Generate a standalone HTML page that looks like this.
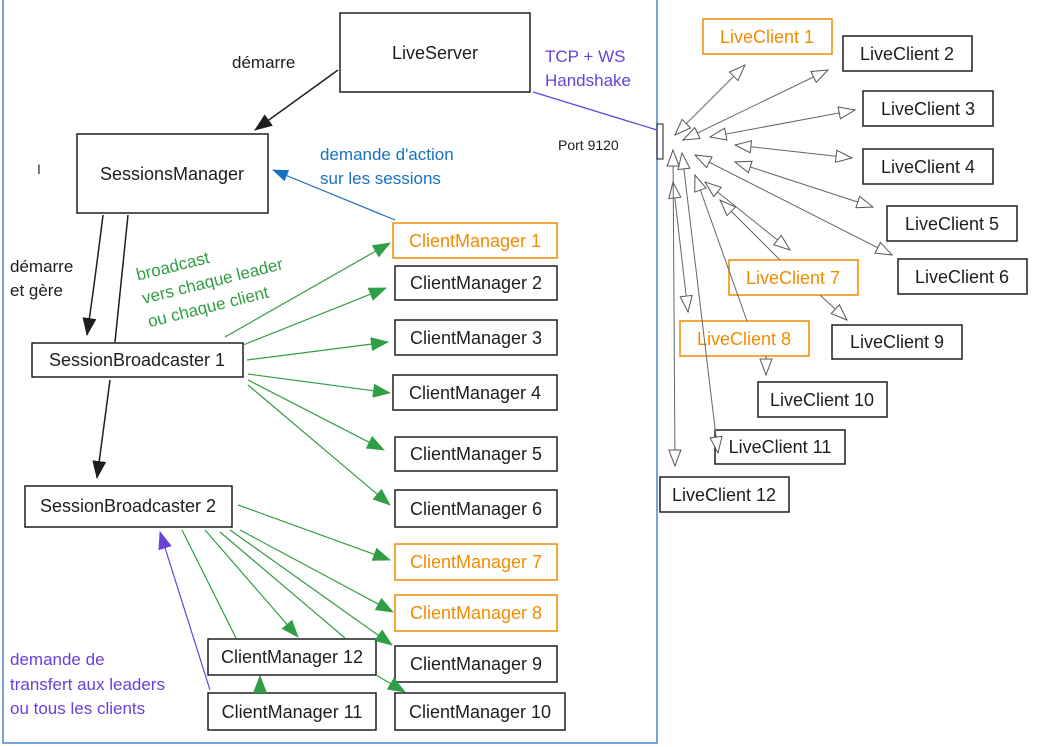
<!DOCTYPE html>
<html><head><meta charset="utf-8"><style>
html,body{margin:0;padding:0;background:#fff;}
svg{display:block;font-family:"Liberation Sans",sans-serif;}
</style></head><body>
<svg width="1040" height="747" viewBox="0 0 1040 747" xmlns="http://www.w3.org/2000/svg">
<defs>
<marker id="ab" markerWidth="18" markerHeight="14" refX="17" refY="7" orient="auto" markerUnits="userSpaceOnUse"><path d="M0,0 L18,7 L0,14 Z" fill="#1e1e1e"/></marker>
<marker id="ag" markerWidth="18" markerHeight="14" refX="17" refY="7" orient="auto" markerUnits="userSpaceOnUse"><path d="M0,0 L18,7 L0,14 Z" fill="#2f9e44"/></marker>
<marker id="abl" markerWidth="16" markerHeight="12" refX="15" refY="6" orient="auto" markerUnits="userSpaceOnUse"><path d="M0,0 L16,6 L0,12 Z" fill="#1971c2"/></marker>
<marker id="ap" markerWidth="18" markerHeight="14" refX="17" refY="7" orient="auto" markerUnits="userSpaceOnUse"><path d="M0,0 L18,7 L0,14 Z" fill="#6741d9"/></marker>
<marker id="ah" markerWidth="18" markerHeight="14" refX="17" refY="7" orient="auto" markerUnits="userSpaceOnUse"><path d="M1,1 L17,7 L1,13 Z" fill="#fff" stroke="#555" stroke-width="1"/></marker>
<marker id="ahs" markerWidth="18" markerHeight="14" refX="1" refY="7" orient="auto" markerUnits="userSpaceOnUse"><path d="M17,1 L1,7 L17,13 Z" fill="#fff" stroke="#555" stroke-width="1"/></marker>
</defs>
<rect x="3" y="-2" width="654" height="745" fill="none" stroke="#4a86c8" stroke-width="1.5"/>

<g fill="none" stroke="#1e1e1e" stroke-width="1.5">
<rect x="340" y="13" width="190" height="79"/>
<rect x="77" y="134" width="191" height="79"/>
<rect x="32" y="343" width="211" height="34"/>
<rect x="25" y="486" width="207" height="41"/>
<rect x="395" y="266" width="162" height="34"/>
<rect x="395" y="320" width="162" height="35"/>
<rect x="393" y="375" width="164" height="35"/>
<rect x="395" y="437" width="162" height="34"/>
<rect x="395" y="490" width="162" height="37"/>
<rect x="395" y="646" width="162" height="36"/>
<rect x="395" y="693" width="170" height="37"/>
<rect x="208" y="639" width="168" height="36"/>
<rect x="208" y="693" width="168" height="37"/>
<rect x="657" y="124" width="6" height="35" stroke-width="1"/>
<rect x="843" y="36" width="129" height="35"/>
<rect x="863" y="91" width="130" height="35"/>
<rect x="863" y="149" width="130" height="35"/>
<rect x="887" y="206" width="130" height="35"/>
<rect x="898" y="259" width="129" height="35"/>
<rect x="832" y="325" width="130" height="34"/>
<rect x="758" y="382" width="129" height="35"/>
<rect x="715" y="430" width="130" height="34"/>
<rect x="660" y="477" width="129" height="35"/>
</g>
<g fill="none" stroke="#f08c00" stroke-width="1.5">
<rect x="393" y="223" width="164" height="35"/>
<rect x="395" y="544" width="162" height="36"/>
<rect x="395" y="595" width="162" height="36"/>
<rect x="703" y="19" width="129" height="35"/>
<rect x="729" y="260" width="129" height="35"/>
<rect x="680" y="321" width="129" height="35"/>
</g>

<g font-size="18" fill="#1e1e1e" text-anchor="middle" dominant-baseline="central">
<text x="435" y="53">LiveServer</text>
<text x="172" y="174">SessionsManager</text>
<text x="137" y="360">SessionBroadcaster 1</text>
<text x="128" y="506">SessionBroadcaster 2</text>
<text x="476" y="283">ClientManager 2</text>
<text x="476" y="338">ClientManager 3</text>
<text x="475" y="393">ClientManager 4</text>
<text x="476" y="454">ClientManager 5</text>
<text x="476" y="509">ClientManager 6</text>
<text x="476" y="664">ClientManager 9</text>
<text x="480" y="712">ClientManager 10</text>
<text x="292" y="657">ClientManager 12</text>
<text x="292" y="712">ClientManager 11</text>
<text x="907" y="54">LiveClient 2</text>
<text x="928" y="109">LiveClient 3</text>
<text x="928" y="167">LiveClient 4</text>
<text x="952" y="224">LiveClient 5</text>
<text x="962" y="277">LiveClient 6</text>
<text x="897" y="342">LiveClient 9</text>
<text x="822" y="400">LiveClient 10</text>
<text x="780" y="447">LiveClient 11</text>
<text x="724" y="495">LiveClient 12</text>
</g>
<g font-size="18" fill="#f08c00" text-anchor="middle" dominant-baseline="central">
<text x="475" y="241">ClientManager 1</text>
<text x="476" y="562">ClientManager 7</text>
<text x="476" y="613">ClientManager 8</text>
<text x="767" y="37">LiveClient 1</text>
<text x="793" y="278">LiveClient 7</text>
<text x="744" y="339">LiveClient 8</text>
</g>

<g font-size="17" fill="#1e1e1e">
<text x="232" y="68">démarre</text>
<text x="10" y="272">démarre</text>
<text x="10" y="296">et gère</text>
<text x="558" y="150" font-size="14">Port 9120</text>
</g>
<g font-size="17" fill="#1971c2"><text x="320" y="160">demande d'action</text><text x="320" y="184">sur les sessions</text></g>
<g font-size="17" fill="#6741d9"><text x="545" y="62">TCP + WS</text><text x="545" y="86">Handshake</text>
<text x="10" y="665">demande de</text><text x="10" y="690">transfert aux leaders</text><text x="10" y="714">ou tous les clients</text></g>
<g font-size="17" fill="#2f9e44" transform="rotate(-14 215 280)"><text x="140" y="262">broadcast</text><text x="140" y="286">vers chaque leader</text><text x="140" y="310">ou chaque client</text></g>
<text x="37" y="174" font-size="14" fill="#333">I</text>

<g stroke="#1e1e1e" stroke-width="1.5" fill="none">
<line x1="338" y1="70" x2="255" y2="130" marker-end="url(#ab)"/>
<path d="M103,215 Q95,280 87,335" marker-end="url(#ab)"/>
<line x1="128" y1="215" x2="115" y2="342"/>
<line x1="110" y1="380" x2="97" y2="478" marker-end="url(#ab)"/>
</g>
<line x1="395" y1="220" x2="273" y2="170" stroke="#1971c2" stroke-width="1.2" marker-end="url(#abl)"/>
<line x1="533" y1="92" x2="657" y2="130" stroke="#6741d9" stroke-width="1.2"/>
<line x1="210" y1="690" x2="160" y2="532" stroke="#6741d9" stroke-width="1.2" marker-end="url(#ap)"/>

<g stroke="#2f9e44" stroke-width="1.2" fill="none" marker-end="url(#ag)">
<line x1="225" y1="337" x2="390" y2="243"/>
<line x1="243" y1="345" x2="386" y2="288"/>
<line x1="247" y1="360" x2="388" y2="342"/>
<line x1="248" y1="374" x2="390" y2="393"/>
<line x1="248" y1="380" x2="384" y2="450"/>
<line x1="248" y1="385" x2="390" y2="505"/>
<line x1="238" y1="505" x2="390" y2="560"/>
<line x1="240" y1="530" x2="393" y2="612"/>
<line x1="205" y1="530" x2="298" y2="637"/>
<line x1="230" y1="530" x2="392" y2="645"/>
<line x1="376" y1="675" x2="405" y2="692"/>
<line x1="260" y1="693" x2="260" y2="676"/>
</g>
<line x1="182" y1="530" x2="236" y2="638" stroke="#2f9e44" stroke-width="1.2"/>
<line x1="220" y1="532" x2="345" y2="638" stroke="#2f9e44" stroke-width="1.2"/>

<g stroke="#666" stroke-width="1" fill="none" marker-end="url(#ah)" marker-start="url(#ahs)">
<line x1="675" y1="135" x2="745" y2="65"/>
<line x1="683" y1="140" x2="828" y2="70"/>
<line x1="710" y1="137" x2="855" y2="110"/>
<line x1="735" y1="145" x2="852" y2="158"/>
<line x1="735" y1="162" x2="873" y2="207"/>
<line x1="695" y1="155" x2="892" y2="255"/>
<line x1="705" y1="182" x2="790" y2="250"/>
<line x1="673" y1="182" x2="688" y2="312"/>
<line x1="682" y1="153" x2="718" y2="453"/>
<line x1="673" y1="150" x2="675" y2="466"/>
</g>
<g stroke="#666" stroke-width="1" fill="none">
<line x1="720" y1="200" x2="780" y2="260" marker-start="url(#ahs)"/>
<line x1="695" y1="175" x2="747" y2="321" marker-start="url(#ahs)"/>
<line x1="820" y1="295" x2="847" y2="320" marker-end="url(#ah)"/>
<line x1="766" y1="356" x2="766" y2="375" marker-end="url(#ah)"/>
</g>
</svg>
</body></html>
